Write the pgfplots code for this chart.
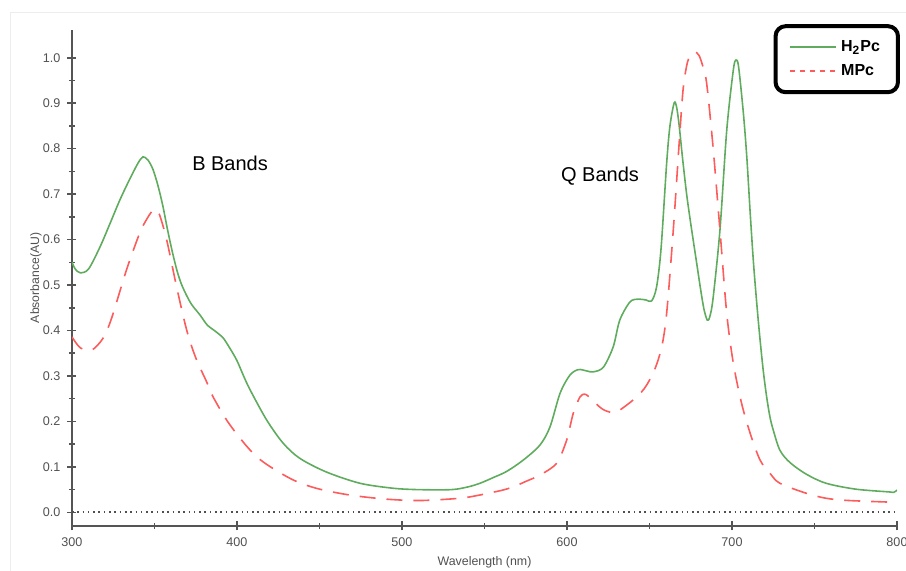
\documentclass[border=0pt]{standalone}
\usepackage{pgfplots}
\pgfplotsset{compat=1.18}
\usepackage{fontspec}
\setmainfont{Liberation Sans}
\definecolor{hgreen}{RGB}{95,172,95}
\definecolor{mred}{RGB}{252,92,92}
\definecolor{axgray}{RGB}{85,85,85}
\definecolor{lblgray}{RGB}{80,80,80}

\begin{document}
\begin{tikzpicture}
\path[use as bounding box] (-36pt,-22.5pt) rectangle (417pt,263pt);
\draw[black!7, line width=0.5pt] (-31pt,-22.5pt) -- (-31pt,256.6pt) -- (417pt,256.6pt);
\begin{axis}[
  scale only axis, width=412.5pt, height=248pt,
  xmin=300, xmax=800, ymin=-0.03, ymax=1.061,
  axis x line=bottom, axis y line=left,
  axis line style={-, axgray, line width=1pt},
  xtick={300,400,500,600,700,800}, minor xtick={350,450,550,650,750},
  ytick={0,0.1,0.2,0.3,0.4,0.5,0.6,0.7,0.8,0.9,1.0},
  minor ytick={0.05,0.15,0.25,0.35,0.45,0.55,0.65,0.75,0.85,0.95},
  tick align=center, major tick length=4.5pt, minor tick length=3pt,
  every tick/.style={axgray, line width=0.8pt},
  /pgf/number format/assume math mode=true,
  tick label style={font=\fontsize{6.3}{7}\selectfont, text=lblgray},
  yticklabel style={/pgf/number format/.cd, fixed, fixed zerofill, precision=1},
  xticklabel style={/pgf/number format/.cd, fixed, 1000 sep={}},
  xlabel={Wavelength (nm)}, ylabel={Absorbance(AU)},
  xlabel style={font=\fontsize{6.2}{7}\selectfont, text=lblgray,
    at={(axis description cs:0.5,-0.0738)}, anchor=center},
  ylabel style={font=\fontsize{6.1}{7}\selectfont, text=lblgray,
    at={(axis description cs:-0.0436,0.5)}, anchor=center},
  legend cell align=left,
  legend image code/.code={\draw[#1] (0pt,0pt) -- (23pt,0pt);},
  legend style={at={(axis description cs:1.0036,1.0117)}, anchor=north east,
    draw=black, line width=2pt, rounded corners=5pt, fill=white,
    font=\fontsize{8}{9}\bfseries\selectfont, inner xsep=7pt, inner ysep=5pt,
    row sep=1pt},
]
\addplot[lblgray, line width=0.9pt, dash pattern=on 0.8pt off 1.85pt, forget plot]
  coordinates {(300,0) (800,0)};

\addplot[hgreen, line width=0.8pt, smooth] coordinates {
 (300,0.55) (302,0.535) (305,0.527) (310,0.535) (317,0.584) (323,0.635)
 (329,0.687) (335,0.733) (340,0.768) (343,0.782) (346,0.775) (349,0.755)
 (352,0.72) (355,0.675) (358,0.62) (361,0.57) (364,0.527) (367,0.496)
 (372,0.46) (377.6,0.434) (382,0.412) (387,0.398) (391.5,0.384) (395,0.365)
 (399.8,0.335) (404,0.30) (408,0.269) (418,0.203) (428,0.152) (438,0.119)
 (454,0.089) (474.5,0.064) (494.7,0.053) (510,0.05) (530,0.05) (540,0.056)
 (547.3,0.064) (555,0.076) (563.4,0.09) (573.5,0.115) (583.6,0.148)
 (589.7,0.188) (595.8,0.262) (601.8,0.302) (606.9,0.314) (612,0.311)
 (615.9,0.309) (622,0.319) (628,0.364) (632,0.423) (638.2,0.463)
 (643.2,0.469) (648,0.467) (651.3,0.465) (654.3,0.496) (657,0.58)
 (660.4,0.768) (662.4,0.85) (665,0.901) (666.5,0.89) (668,0.85) (670,0.78)
 (672.5,0.70) (675,0.635) (678.6,0.548) (681,0.49) (683,0.447) (685,0.423)
 (686.5,0.43) (688.5,0.47) (692.7,0.621) (696.8,0.84) (700.8,0.973)
 (702.4,0.995) (704,0.98) (706.9,0.878) (709,0.78) (711,0.66) (713,0.55)
 (715,0.46) (717,0.38) (719,0.31) (721,0.254) (723,0.21) (725,0.181)
 (729,0.137) (735,0.11) (745,0.084) (757,0.064) (775,0.051) (795,0.045)
 (798,0.044) (800,0.049)};
\addlegendentry{H\textsubscript{2}Pc}

\addplot[mred, line width=0.8pt, smooth, dash pattern=on 8pt off 5.5pt,
  legend image post style={dash pattern=on 2.5pt off 2.5pt}] coordinates {
 (300,0.386) (305,0.362) (312,0.357) (318.8,0.383) (324,0.427) (333,0.533)
 (341,0.614) (345,0.643) (348,0.66) (350.3,0.667) (353,0.655) (357.4,0.599)
 (363.4,0.496) (369.5,0.401) (375,0.34) (381.6,0.287) (385.5,0.254)
 (395.8,0.192) (412,0.122) (432,0.075) (448,0.053) (468.5,0.038)
 (490.7,0.029) (511,0.026) (535,0.031) (547,0.038) (552,0.042) (560,0.048)
 (567.5,0.056) (575,0.068) (583.6,0.082) (593.7,0.108) (599.8,0.159)
 (603.8,0.218) (607.9,0.254) (610.7,0.26) (613,0.255) (617,0.241)
 (622,0.226) (628,0.219) (632,0.225) (640,0.247) (647,0.273) (653,0.313)
 (657.4,0.364) (660.4,0.438) (664.4,0.62) (668.5,0.84) (670.5,0.935)
 (673,0.99) (675.5,1.008) (677.6,1.013) (680,1.005) (682,0.985)
 (684.6,0.945) (688.5,0.804) (692.7,0.621) (696.8,0.438) (700.8,0.328)
 (705.8,0.24) (711,0.174) (717,0.115) (723,0.086) (729,0.064) (745,0.042)
 (757,0.031) (771,0.026) (800,0.022)};
\addlegendentry{MPc}

\node[font=\fontsize{10}{12}\selectfont] at (axis cs:395.8,0.768) {B Bands};
\node[font=\fontsize{10}{12}\selectfont] at (axis cs:620,0.74) {Q Bands};
\end{axis}
\end{tikzpicture}
\end{document}
